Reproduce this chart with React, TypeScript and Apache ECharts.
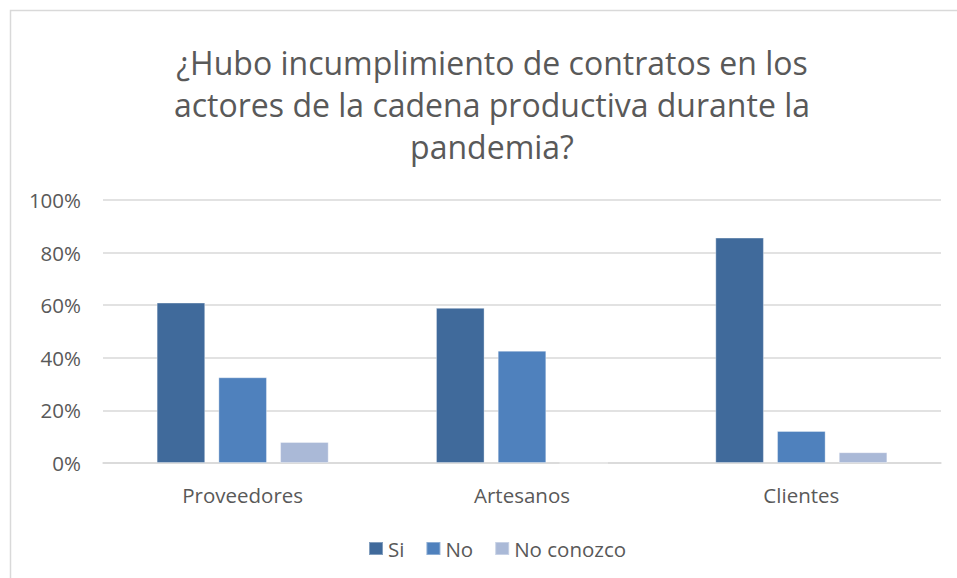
import React, { useEffect, useRef } from "react";
import * as echarts from "echarts";

const titleLines = [
  "¿Hubo incumplimiento de contratos en los",
  "actores de la cadena productiva durante la",
  "pandemia?",
];
const categories = ["Proveedores", "Artesanos", "Clientes"];
const seriesNames = ["Si", "No", "No conozco"];
const siValues = [61, 59, 85.7];
const noValues = [32.6, 42.7, 12.2];
const noConozcoValues = [8, 0, 4.1];
const yTicks = [0, 20, 40, 60, 80, 100];

const colors = ["#406A9B", "#4F81BD", "#AAB9D7"];
const FONT = "'Open Sans', 'Noto Sans', sans-serif";
const TEXT = "#595959";

export default function App() {
  const ref = useRef<HTMLDivElement>(null);
  useEffect(() => {
    if (!ref.current) return;
    const chart = echarts.init(ref.current, undefined, { renderer: "svg" });
    const values = [siValues, noValues, noConozcoValues];
    chart.setOption({
      animation: false,
      backgroundColor: "#ffffff",
      textStyle: { fontFamily: FONT },
      title: {
        text: titleLines.join("\n"),
        left: 492,
        top: 41,
        padding: 0,
        textAlign: "center",
        textStyle: {
          fontFamily: FONT,
          fontSize: 32,
          fontWeight: "normal",
          color: TEXT,
          lineHeight: 42,
        },
      },
      graphic: [
        {
          type: "rect",
          shape: { x: 10.5, y: 10.5, width: 1200, height: 1200 },
          style: { fill: "none", stroke: "#d9d9d9", lineWidth: 1.5 },
          silent: true,
        },
      ],
      legend: {
        data: seriesNames,
        left: 368,
        top: 538,
        itemWidth: 14,
        itemHeight: 13,
        itemGap: 21,
        padding: 0,
        icon: "rect",
        textStyle: { fontFamily: FONT, fontSize: 20.5, color: TEXT, padding: [0, 0, 0, 0] },
      },
      grid: { left: 103, right: 16, top: 200, bottom: 115, containLabel: false },
      xAxis: {
        type: "category",
        data: categories,
        axisLine: { show: true, lineStyle: { color: "#d9d9d9", width: 1.5 } },
        axisTick: { show: false },
        axisLabel: { fontFamily: FONT, fontSize: 20.5, color: TEXT, margin: 21 },
      },
      yAxis: {
        type: "value",
        min: yTicks[0],
        max: yTicks[yTicks.length - 1],
        interval: yTicks[1] - yTicks[0],
        axisLine: { show: false },
        axisTick: { show: false },
        splitLine: { lineStyle: { color: "#d9d9d9", width: 1.5 } },
        axisLabel: {
          fontFamily: FONT,
          fontSize: 20.5,
          color: TEXT,
          margin: 22,
          formatter: (v: number) => `${v}%`,
        },
      },
      series: seriesNames.map((name, i) => ({
        name,
        type: "bar",
        data: values[i],
        barWidth: "17.4%",
        barGap: "27%",
        itemStyle: { color: colors[i], borderColor: "rgba(255,255,255,0.35)", borderWidth: 1 },
      })),
    });
    return () => chart.dispose();
  }, []);
  return (
    <div
      ref={ref}
      style={{ position: "absolute", left: 0, top: 0, width: 957, height: 578 }}
    />
  );
}
